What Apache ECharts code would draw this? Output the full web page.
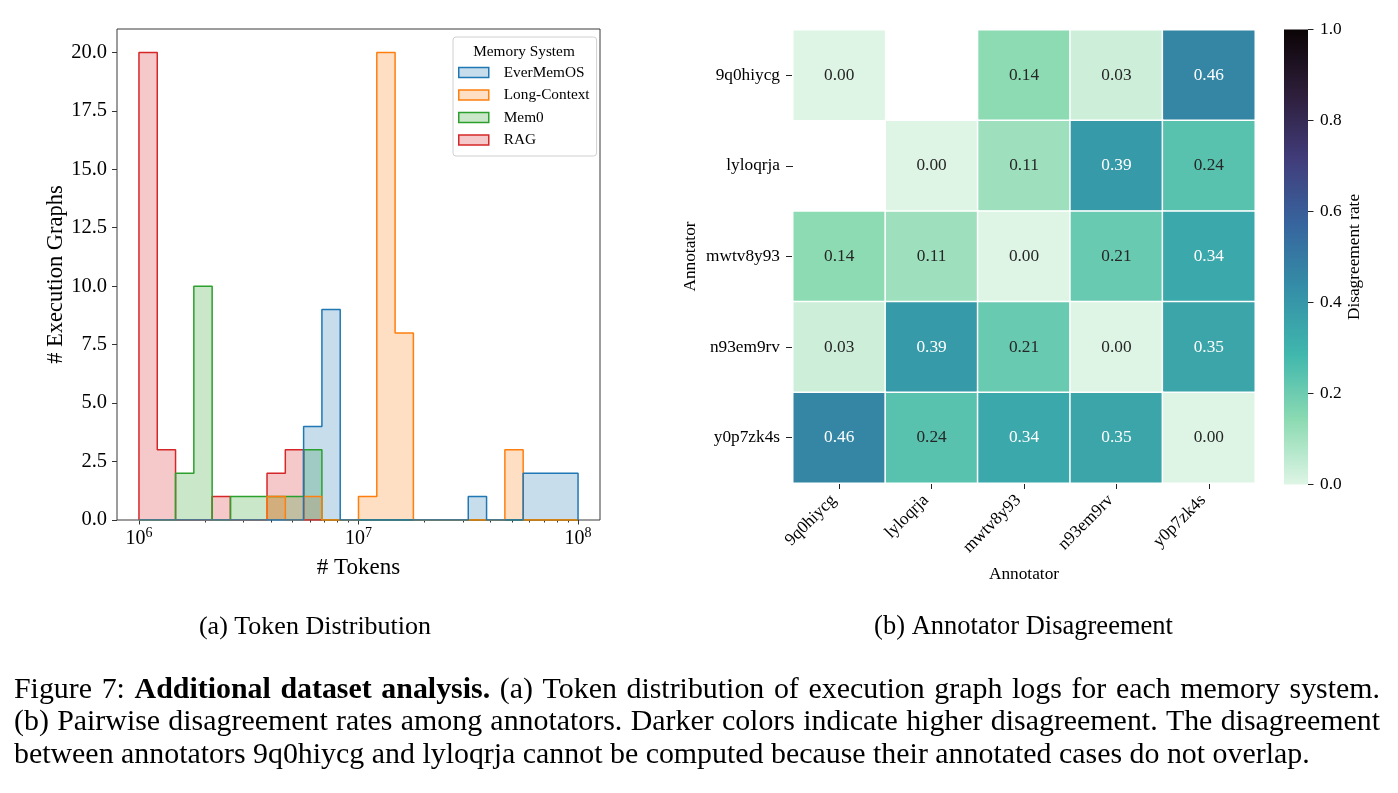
<!DOCTYPE html>
<html>
<head>
<meta charset="utf-8">
<title>Figure 7</title>
<script src="https://cdn.jsdelivr.net/npm/echarts@6/dist/echarts.min.js"></script>
<style>
  html, body { margin: 0; padding: 0; background: #fff; }
  #main { width: 1398px; height: 793px; }
</style>
</head>
<body>
<div id="main"></div>
<script>
// ---------- (a) token distribution ----------
const systems = ['EverMemOS', 'Long-Context', 'Mem0', 'RAG'];
const systemColors = ['#1f77b4', '#ff7f0e', '#2ca02c', '#d62728'];
// counts per bin, 24 log-spaced bins from 1e6 to 1e8 tokens
const everMemOSCounts   = [0, 0, 0, 0, 0, 0, 0, 0, 0, 4, 9, 0, 0, 0, 0, 0, 0, 0, 1, 0, 0, 2, 2, 2];
const longContextCounts = [0, 0, 0, 0, 0, 0, 0, 1, 0, 1, 0, 0, 1, 20, 8, 0, 0, 0, 0, 0, 3, 0, 0, 0];
const mem0Counts        = [0, 0, 2, 10, 0, 1, 1, 1, 1, 3, 0, 0, 0, 0, 0, 0, 0, 0, 0, 0, 0, 0, 0, 0];
const ragCounts         = [20, 3, 0, 0, 1, 0, 0, 2, 3, 0, 0, 0, 0, 0, 0, 0, 0, 0, 0, 0, 0, 0, 0, 0];
const binMinTokens = 1e6;
const binMaxTokens = 1e8;
const xTickExponents = [6, 7, 8];
const yTicks = [0, 2.5, 5, 7.5, 10, 12.5, 15, 17.5, 20];

// ---------- (b) annotator disagreement ----------
const annotators = ['9q0hiycg', 'lyloqrja', 'mwtv8y93', 'n93em9rv', 'y0p7zk4s'];
const disagreement = [
  [0.00, null, 0.14, 0.03, 0.46],
  [null, 0.00, 0.11, 0.39, 0.24],
  [0.14, 0.11, 0.00, 0.21, 0.34],
  [0.03, 0.39, 0.21, 0.00, 0.35],
  [0.46, 0.24, 0.34, 0.35, 0.00]
];
const colorbarTicks = [0, 0.2, 0.4, 0.6, 0.8, 1.0];
// mako_r, evenly spaced stops from 0 to 1
const makoR = ['#def5e5', '#8bdab2', '#40b7ad', '#348fa7', '#37659e', '#413d7b', '#2e1e3b', '#0b0405'];

const FONT = '"Liberation Serif", "DejaVu Serif", serif';

// bin edges in log10 space
const nBins = ragCounts.length;
const lo = Math.log10(binMinTokens), hi = Math.log10(binMaxTokens);
const edges = [];
for (let i = 0; i <= nBins; i++) edges.push(lo + (hi - lo) * i / nBins);

// minor ticks of the log axis: 2..9 x 10^n
const minorTicks = [];
for (let n = 6; n < 8; n++) {
  for (let k = 2; k <= 9; k++) minorTicks.push(Math.log10(k * Math.pow(10, n)));
}

function stepData(counts) {
  const pts = [[edges[0], 0]];
  counts.forEach((c, i) => pts.push([edges[i], c]));
  pts.push([edges[nBins], 0]);
  return pts;
}

function hexAlpha(hex, a) {
  const n = parseInt(hex.slice(1), 16);
  return `rgba(${(n >> 16) & 255},${(n >> 8) & 255},${n & 255},${a})`;
}

const systemCounts = [everMemOSCounts, longContextCounts, mem0Counts, ragCounts];

// seaborn draws the last hue first
const histSeries = [];
for (let i = systems.length - 1; i >= 0; i--) {
  histSeries.push({
    name: systems[i],
    type: 'line',
    xAxisIndex: 0,
    yAxisIndex: 0,
    step: 'end',
    showSymbol: false,
    symbol: 'none',
    color: systemColors[i],
    lineStyle: { width: 1.5, color: systemColors[i] },
    areaStyle: { color: systemColors[i], opacity: 0.25 },
    silent: true,
    data: stepData(systemCounts[i])
  });
}

// heatmap cells
const heatData = [];
disagreement.forEach((row, r) => {
  row.forEach((v, c) => {
    if (v === null) return;
    heatData.push({
      value: [c, r, v],
      label: { color: v >= 0.3 ? '#ffffff' : '#262626' }
    });
  });
});

const barGradient = new echarts.graphic.LinearGradient(0, 1, 0, 0,
  makoR.map((c, i) => ({ offset: i / (makoR.length - 1), color: c })));

// ---------- caption text, justified word by word ----------
const captionSize = 29.9;
const captionLeft = 14, captionRight = 1380;
const captionLines = [
  { y: 690, justify: true, parts: [['Figure 7:', false], ['Additional dataset analysis.', true],
    ['(a) Token distribution of execution graph logs for each memory system.', false]] },
  { y: 722.5, justify: true, parts: [['(b) Pairwise disagreement rates among annotators. Darker colors indicate higher disagreement. The disagreement', false]] },
  { y: 755, justify: false, parts: [['between annotators 9q0hiycg and lyloqrja cannot be computed because their annotated cases do not overlap.', false]] }
];
const measureCtx = document.createElement('canvas').getContext('2d');
function fontStr(bold) { return (bold ? 'bold ' : '') + captionSize + 'px ' + FONT; }
function textWidth(t, bold) { measureCtx.font = fontStr(bold); return measureCtx.measureText(t).width; }

const captionEls = [];
captionLines.forEach(line => {
  const words = [];
  line.parts.forEach(([txt, bold]) => txt.split(' ').forEach(w => words.push({ w, bold })));
  const widths = words.map(o => textWidth(o.w, o.bold));
  const total = widths.reduce((a, b) => a + b, 0);
  const gap = line.justify ? (captionRight - captionLeft - total) / (words.length - 1) : textWidth(' ', false);
  let x = captionLeft;
  words.forEach((o, i) => {
    captionEls.push({
      type: 'text', x: x, y: line.y, silent: true,
      style: { text: o.w, font: fontStr(o.bold), fill: '#000', textAlign: 'left', textVerticalAlign: 'middle' }
    });
    x += widths[i] + gap;
  });
});

const chart = echarts.init(document.getElementById('main'));
chart.setOption({
  animation: false,
  backgroundColor: '#fff',
  textStyle: { fontFamily: FONT },
  grid: [
    { left: 117, top: 29, width: 483, height: 491, show: true, borderColor: '#3a3a3a', borderWidth: 1, backgroundColor: 'transparent' },
    { left: 793, top: 30, width: 462, height: 453 },
    { left: 1284, top: 29.5, width: 24, height: 455 }
  ],
  legend: {
    left: 453, top: 37,
    orient: 'vertical',
    icon: 'rect',
    itemWidth: 30, itemHeight: 10, itemGap: 6.5,
    padding: [27.5, 7, 8, 5],
    backgroundColor: 'rgba(255,255,255,0.8)',
    borderColor: '#d0d0d0', borderWidth: 1, borderRadius: 3,
    selectedMode: false,
    textStyle: { fontFamily: FONT, fontSize: 15.3, color: '#000', lineHeight: 16, padding: [0, 0, 0, 10] },
    data: systems.map((s, i) => ({
      name: s,
      itemStyle: { color: hexAlpha(systemColors[i], 0.25), borderColor: systemColors[i], borderWidth: 1.5 }
    }))
  },
  xAxis: [
    {
      type: 'value', gridIndex: 0, position: 'bottom', min: 5.9, max: 8.1,
      axisLine: { show: false }, splitLine: { show: false },
      axisTick: { show: true, customValues: xTickExponents, length: 4.5, lineStyle: { color: '#333' } },
      axisLabel: {
        customValues: xTickExponents, margin: 6, color: '#000',
        formatter: v => '{b|10}{s|' + Math.round(v) + '}',
        rich: {
          b: { fontFamily: FONT, fontSize: 20, color: '#000' },
          s: { fontFamily: FONT, fontSize: 14, color: '#000', padding: [0, 0, 12, 0] }
        }
      },
      name: '# Tokens', nameLocation: 'middle', nameGap: 36,
      nameTextStyle: { fontFamily: FONT, fontSize: 23, color: '#000' }
    },
    {
      type: 'value', gridIndex: 0, position: 'bottom', min: 5.9, max: 8.1,
      axisLine: { show: false }, splitLine: { show: false },
      axisLabel: { show: false },
      axisTick: { show: true, customValues: minorTicks, length: 2.5, lineStyle: { color: '#333' } }
    },
    {
      type: 'category', gridIndex: 1, data: annotators,
      axisLine: { show: false }, splitLine: { show: false },
      axisTick: { show: true, alignWithLabel: true, length: 6, lineStyle: { color: '#222' } },
      axisLabel: { rotate: 45, margin: 9, fontSize: 17.3, color: '#000', fontFamily: FONT, padding: [0, 8, 0, 0] },
      name: 'Annotator', nameLocation: 'middle', nameGap: 83,
      nameTextStyle: { fontFamily: FONT, fontSize: 17.3, color: '#000' }
    },
    { type: 'category', gridIndex: 2, data: [''], show: false }
  ],
  yAxis: [
    {
      type: 'value', gridIndex: 0, min: 0, max: 21,
      axisLine: { show: false }, splitLine: { show: false },
      axisTick: { show: true, customValues: yTicks, length: 5, lineStyle: { color: '#333' } },
      axisLabel: { customValues: yTicks, margin: 10, fontSize: 20.5, color: '#000', fontFamily: FONT, formatter: v => v.toFixed(1) },
      name: '# Execution Graphs', nameLocation: 'middle', nameGap: 37,
      nameTextStyle: { fontFamily: FONT, fontSize: 22.5, color: '#000' }
    },
    {
      type: 'category', gridIndex: 1, data: annotators, inverse: true,
      axisLine: { show: false }, splitLine: { show: false },
      axisTick: { show: true, alignWithLabel: true, length: 7, lineStyle: { color: '#222' } },
      axisLabel: { margin: 13, fontSize: 17.3, color: '#000', fontFamily: FONT },
      name: 'Annotator', nameLocation: 'middle', nameGap: 94,
      nameTextStyle: { fontFamily: FONT, fontSize: 17.3, color: '#000' }
    },
    {
      type: 'value', gridIndex: 2, position: 'right', min: 0, max: 1,
      axisLine: { show: false }, splitLine: { show: false },
      axisTick: { show: true, customValues: colorbarTicks, length: 5.5, lineStyle: { color: '#222' } },
      axisLabel: { customValues: colorbarTicks, margin: 12, fontSize: 17.3, color: '#000', fontFamily: FONT, formatter: v => v.toFixed(1) },
      name: 'Disagreement rate', nameLocation: 'middle', nameGap: 38,
      nameTextStyle: { fontFamily: FONT, fontSize: 17.3, color: '#000' }
    }
  ],
  visualMap: {
    type: 'continuous', show: false, min: 0, max: 1, dimension: 2,
    seriesIndex: histSeries.length,
    inRange: { color: makoR }
  },
  series: histSeries.concat([
    {
      type: 'heatmap', xAxisIndex: 2, yAxisIndex: 1,
      data: heatData,
      itemStyle: { borderColor: '#fff', borderWidth: 1.5 },
      label: { show: true, fontFamily: FONT, fontSize: 17.3, formatter: p => p.value[2].toFixed(2) },
      emphasis: { disabled: true },
      silent: true
    },
    {
      type: 'bar', xAxisIndex: 3, yAxisIndex: 2,
      data: [1], barWidth: '100%',
      itemStyle: { color: barGradient },
      silent: true
    }
  ]),
  graphic: [
    {
      type: 'text', x: 524, y: 52, z: 100, silent: true,
      style: { text: 'Memory System', font: '15.3px ' + FONT, fill: '#000', textAlign: 'center', textVerticalAlign: 'middle' }
    },
    {
      type: 'text', x: 315, y: 627, silent: true,
      style: { text: '(a) Token Distribution', font: '26px ' + FONT, fill: '#000', textAlign: 'center', textVerticalAlign: 'middle' }
    },
    {
      type: 'text', x: 1023.5, y: 627, silent: true,
      style: { text: '(b) Annotator Disagreement', font: '26.5px ' + FONT, fill: '#000', textAlign: 'center', textVerticalAlign: 'middle' }
    }
  ].concat(captionEls)
});
window.onresize = function () { chart.resize(); };
</script>
</body>
</html>
